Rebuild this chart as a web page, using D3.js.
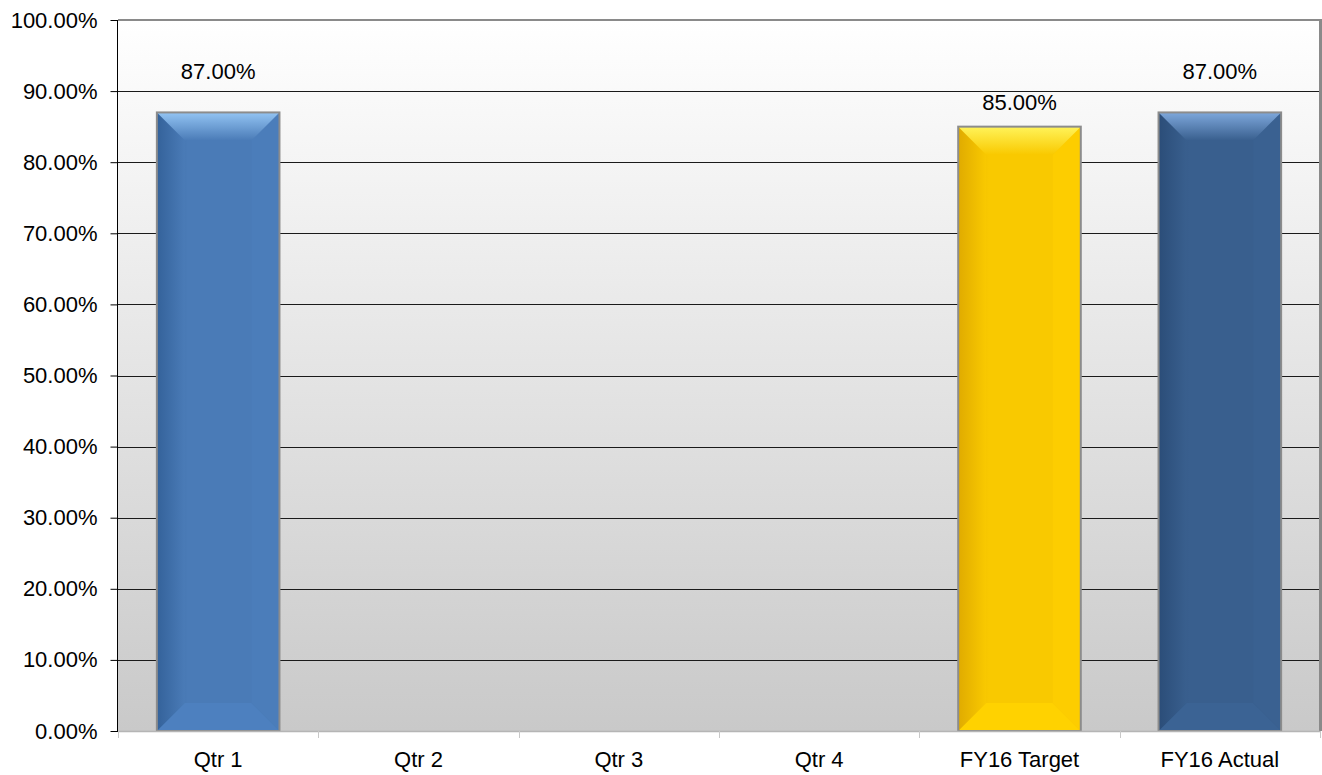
<!DOCTYPE html>
<html>
<head>
<meta charset="utf-8">
<script src="https://cdn.jsdelivr.net/npm/d3@7"></script>
<style>
  html, body { margin: 0; padding: 0; background: #fff; }
  svg { display: block; font-family: "Liberation Sans", Arial, sans-serif; }
</style>
</head>
<body>
<svg id="chart" width="1322" height="775"></svg>
<script>
// chart data
var categories = ["Qtr 1", "Qtr 2", "Qtr 3", "Qtr 4", "FY16 Target", "FY16 Actual"];
var values = [0.87, null, null, null, 0.85, 0.87];
var yTicks = [0, 0.1, 0.2, 0.3, 0.4, 0.5, 0.6, 0.7, 0.8, 0.9, 1.0];

// bar palettes: [face, dark edge, light top]
var palettes = [
  ["#4a7bb7", "#34629a", "#93c4f3"],
  ["#4a7bb7", "#34629a", "#93c4f3"],
  ["#4a7bb7", "#34629a", "#93c4f3"],
  ["#4a7bb7", "#34629a", "#93c4f3"],
  ["#f9c900", "#e0ab00", "#fff35a"],
  ["#395f8e", "#2b4d78", "#7ea8dc"]
];

var svg = d3.select("#chart");
var plot = {left: 118, top: 20, right: 1320, bottom: 731};
var fontSize = "22px";

var x = d3.scaleBand()
  .domain(categories)
  .range([plot.left, plot.right])
  .paddingInner(0.388)
  .paddingOuter(0.194);

var y = d3.scaleLinear().domain([0, 1]).range([plot.bottom, plot.top]);

var defs = svg.append("defs");

var bg = defs.append("linearGradient").attr("id", "bg")
  .attr("x1", 0).attr("y1", 0).attr("x2", 0).attr("y2", 1);
bg.append("stop").attr("offset", 0).attr("stop-color", "#ffffff");
bg.append("stop").attr("offset", 1).attr("stop-color", "#c9c9c9");

// background
svg.append("rect")
  .attr("x", plot.left).attr("y", plot.top)
  .attr("width", plot.right - plot.left)
  .attr("height", plot.bottom - plot.top)
  .attr("fill", "url(#bg)");

// gridlines
svg.append("g").selectAll("line.grid")
  .data(yTicks.slice(1, -1))
  .enter().append("line")
    .attr("class", "grid")
    .attr("x1", plot.left).attr("x2", plot.right)
    .attr("y1", function(d) { return Math.round(y(d)) + 0.5; })
    .attr("y2", function(d) { return Math.round(y(d)) + 0.5; })
    .attr("stroke", "#1a1a1a").attr("stroke-width", 1);

// top + right border
svg.append("line")
  .attr("x1", plot.left).attr("x2", plot.right + 2)
  .attr("y1", plot.top).attr("y2", plot.top)
  .attr("stroke", "#8a8a8a").attr("stroke-width", 2);
svg.append("line")
  .attr("x1", plot.right + 0.5).attr("x2", plot.right + 0.5)
  .attr("y1", plot.top).attr("y2", plot.bottom)
  .attr("stroke", "#8a8a8a").attr("stroke-width", 3);

// gradients for bars
palettes.forEach(function(p, i) {
  var face = defs.append("linearGradient").attr("id", "face" + i)
    .attr("x1", 0).attr("y1", 0).attr("x2", 1).attr("y2", 0);
  face.append("stop").attr("offset", 0).attr("stop-color", p[1]);
  face.append("stop").attr("offset", 0.25).attr("stop-color", p[0]);
  face.append("stop").attr("offset", 1).attr("stop-color", p[0]);

  var top = defs.append("linearGradient").attr("id", "top" + i)
    .attr("x1", 0).attr("y1", 0).attr("x2", 0).attr("y2", 1);
  top.append("stop").attr("offset", 0).attr("stop-color", p[2]);
  top.append("stop").attr("offset", 1).attr("stop-color", p[0]);

  var side = defs.append("linearGradient").attr("id", "side" + i)
    .attr("x1", 0).attr("y1", 0).attr("x2", 1).attr("y2", 0);
  side.append("stop").attr("offset", 0).attr("stop-color", p[1]);
  side.append("stop").attr("offset", 1).attr("stop-color", p[0]);
});

var bevel = 28;
var bars = svg.append("g").selectAll("g.bar")
  .data(categories.map(function(c, i) { return {cat: c, v: values[i], i: i}; })
    .filter(function(d) { return d.v != null; }))
  .enter().append("g").attr("class", "bar");

bars.each(function(d) {
  var g = d3.select(this);
  var x0 = x(d.cat), w = x.bandwidth();
  var y0 = y(d.v), y1 = y(0);
  var b = Math.min(bevel, w / 2, (y1 - y0) / 2);
  g.append("rect")
    .attr("x", x0).attr("y", y0).attr("width", w).attr("height", y1 - y0)
    .attr("fill", "url(#face" + d.i + ")");
  // left bevel
  g.append("polygon")
    .attr("points", [[x0, y0], [x0 + b, y0 + b], [x0 + b, y1 - b], [x0, y1]].join(" "))
    .attr("fill", "url(#side" + d.i + ")");
  // bottom bevel
  g.append("polygon")
    .attr("points", [[x0, y1], [x0 + b, y1 - b], [x0 + w - b, y1 - b], [x0 + w, y1]].join(" "))
    .attr("fill", d3.color(palettes[d.i][0]).brighter(0.12));
  // right bevel
  g.append("polygon")
    .attr("points", [[x0 + w, y0], [x0 + w - b, y0 + b], [x0 + w - b, y1 - b], [x0 + w, y1]].join(" "))
    .attr("fill", d3.color(palettes[d.i][0]).brighter(0.05));
  // top bevel
  g.append("polygon")
    .attr("points", [[x0, y0], [x0 + w, y0], [x0 + w - b, y0 + b], [x0 + b, y0 + b]].join(" "))
    .attr("fill", "url(#top" + d.i + ")");
  g.append("rect")
    .attr("x", x0).attr("y", y0).attr("width", w).attr("height", y1 - y0)
    .attr("fill", "none").attr("stroke", "#8c8c8c").attr("stroke-width", 2);
});

// value labels, lifted above a gridline they would touch
bars.append("text")
  .attr("x", function(d) { return x(d.cat) + x.bandwidth() / 2; })
  .attr("y", function(d) {
    var c = y(d.v) - 24;
    yTicks.forEach(function(t) {
      var gy = y(t);
      if (Math.abs(c - gy) < 9) c = gy - 20;
    });
    return c;
  })
  .attr("dy", "0.35em")
  .attr("text-anchor", "middle")
  .attr("font-size", fontSize)
  .attr("fill", "#000")
  .text(function(d) { return d3.format(".2%")(d.v); });

// y axis
var yAxis = svg.append("g")
  .attr("transform", "translate(" + (plot.left - 0.5) + ",0)")
  .call(d3.axisLeft(y).tickValues(yTicks).tickFormat(d3.format(".2%")).tickSize(7).tickPadding(13));
yAxis.select(".domain").attr("stroke", "#000").attr("d", "M0," + plot.top + "V" + (plot.bottom + 1));
yAxis.selectAll(".tick line").attr("stroke", "#000");
yAxis.selectAll(".tick text")
  .attr("font-size", fontSize).attr("font-family", "Liberation Sans, Arial, sans-serif").attr("fill", "#000");

// x axis
var bounds = [plot.left].concat(categories.map(function(c) { return x(c) - x.step() * x.paddingInner() / 2 + x.step(); }));
var xAxis = svg.append("g");
xAxis.append("line")
  .attr("x1", plot.left).attr("x2", plot.right)
  .attr("y1", plot.bottom + 0.5).attr("y2", plot.bottom + 0.5)
  .attr("stroke", "#b5b5b5").attr("stroke-width", 1.5);
xAxis.selectAll("line.tick")
  .data(bounds)
  .enter().append("line")
    .attr("class", "tick")
    .attr("x1", function(d) { return Math.round(d) + 0.5; })
    .attr("x2", function(d) { return Math.round(d) + 0.5; })
    .attr("y1", plot.bottom).attr("y2", plot.bottom + 7)
    .attr("stroke", "#c8c8c8");
xAxis.selectAll("text")
  .data(categories)
  .enter().append("text")
    .attr("x", function(d) { return x(d) + x.bandwidth() / 2; })
    .attr("y", 759)
    .attr("dy", "0.35em")
    .attr("text-anchor", "middle")
    .attr("font-size", fontSize)
    .attr("fill", "#000")
    .text(function(d) { return d; });
</script>
</body>
</html>
